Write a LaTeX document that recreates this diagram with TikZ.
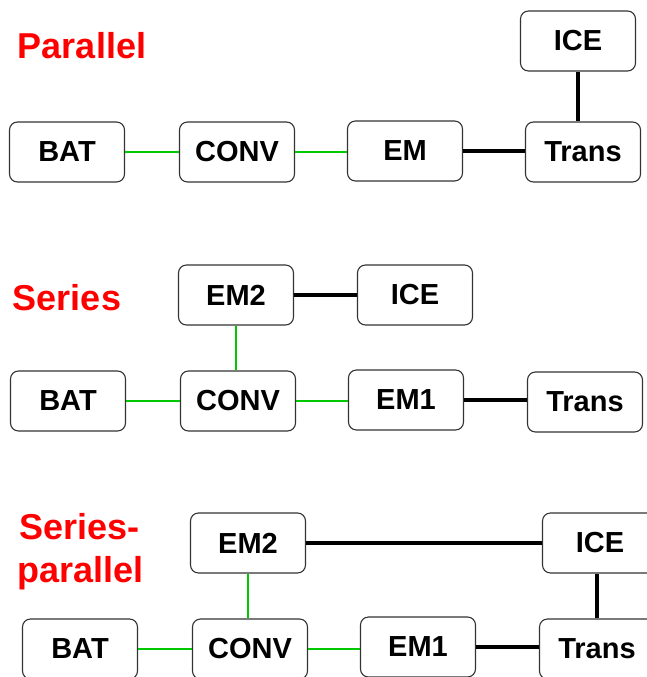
\documentclass[tikz,border=0pt]{standalone}
\usepackage{fontspec}
\setmainfont{Liberation Sans}
\definecolor{linkgreen}{RGB}{0,200,0}
\definecolor{titlered}{RGB}{255,0,0}
\begin{document}
\begin{tikzpicture}[x=1pt,y=-1pt,
  comp/.style={draw=black!80,line width=1.1pt,rounded corners=8pt,minimum width=115pt,minimum height=60pt,inner sep=0pt,font=\fontsize{29}{30}\selectfont\bfseries},
  elec/.style={draw=linkgreen,line width=2pt},
  mech/.style={draw=black,line width=4pt},
  title/.style={text=titlered,font=\fontsize{36}{43}\selectfont\bfseries,inner sep=0pt}]
\useasboundingbox (0,0) rectangle (646,677);
% Parallel
\node[title,anchor=base] (tp) at (82,59) {Parallel};
\node[comp] (pbat) at (67,152) {BAT};
\node[comp] (pconv) at (237,152) {CONV};
\node[comp] (pem) at (405,151) {EM};
\node[comp] (ptrans) at (583,152) {Trans};
\node[comp] (pice) at (578,41) {ICE};
\draw[elec] (pbat.east) -- (pbat.east -| pconv.west);
\draw[elec] (pconv.east) -- (pconv.east -| pem.west);
\draw[mech] (pem.east) -- (pem.east -| ptrans.west);
\draw[mech] (pice.south) -- (pice.south |- ptrans.north);
% Series
\node[title,anchor=base] (ts) at (67,310) {Series};
\node[comp] (sem2) at (236,295) {EM2};
\node[comp] (sice) at (415,295) {ICE};
\node[comp] (sbat) at (68,401) {BAT};
\node[comp] (sconv) at (238,401) {CONV};
\node[comp] (sem1) at (406,400) {EM1};
\node[comp] (strans) at (585,402) {Trans};
\draw[mech] (sem2.east) -- (sem2.east -| sice.west);
\draw[elec] (sbat.east) -- (sbat.east -| sconv.west);
\draw[elec] (sconv.east) -- (sconv.east -| sem1.west);
\draw[mech] (sem1.east) -- (sem1.east -| strans.west);
\draw[elec] (sem2.south) -- (sem2.south |- sconv.north);
% Series-parallel
\node[title,anchor=base west,align=left] (tsp1) at (19,539) {Series-};
\node[title,anchor=base west,align=left] (tsp2) at (17,582) {parallel};
\node[comp] (pem2) at (248,543) {EM2};
\node[comp] (pice2) at (600,543) {ICE};
\node[comp] (pbat2) at (80,649) {BAT};
\node[comp] (pconv2) at (250,649) {CONV};
\node[comp] (pem1) at (418,647) {EM1};
\node[comp] (ptrans2) at (597,649) {Trans};
\draw[mech] (pem2.east) -- (pem2.east -| pice2.west);
\draw[elec] (pbat2.east) -- (pbat2.east -| pconv2.west);
\draw[elec] (pconv2.east) -- (pconv2.east -| pem1.west);
\draw[mech] (pem1.east) -- (pem1.east -| ptrans2.west);
\draw[elec] (pem2.south) -- (pem2.south |- pconv2.north);
\draw[mech] (ptrans2.north) -- (ptrans2.north |- pice2.south);
\end{tikzpicture}
\end{document}
